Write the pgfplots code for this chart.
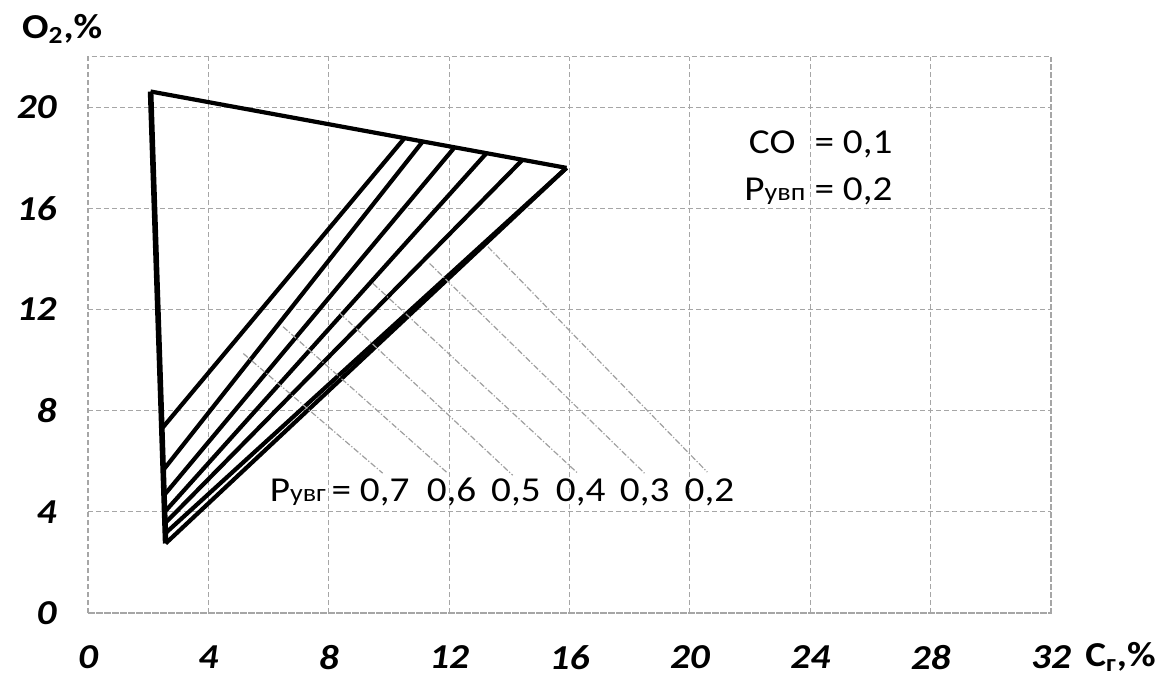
\documentclass[border=0pt]{standalone}
\usepackage{fontspec}
\setmainfont{Carlito}[FakeStretch=1.12]
\usepackage{pgfplots}
\pgfplotsset{compat=1.18}

\begin{document}
\begin{tikzpicture}
\path[use as bounding box] (-44pt,-33pt) rectangle (535.5pt,306.5pt);
\begin{axis}[
  at={(0,0)}, anchor=south west,
  scale only axis, width=481.5pt, height=278.2pt,
  xmin=0, xmax=32, ymin=0, ymax=22,
  xtick={0,4,...,32}, ytick={0,4,...,20},
  grid=major,
  major grid style={gray!70, line width=0.55pt, dash pattern=on 2.5pt off 1.5pt},
  axis line style={gray!70, line width=0.55pt, dash pattern=on 2.5pt off 1.5pt},
  tick style={draw=none},
  /pgf/number format/assume math mode=true,
  ticklabel style={font=\fontsize{17.5}{17.5}\selectfont\bfseries\itshape, inner sep=0pt},
  xticklabel style={yshift=-16pt},
  yticklabel style={xshift=-15.5pt},
  clip=false,
]
% plume boundaries
\addplot[black, line width=2.8pt] coordinates {(2.58,2.75) (2.08,20.62)};
\addplot[black, line width=2.1pt] coordinates {(2.08,20.62) (15.9,17.6)};
\addplot[black, line width=2.1pt] coordinates {(2.58,2.75) (15.9,17.6)};
% lines of constant P_uvg: 0.7 ... 0.2
\addplot[black, line width=2.1pt] coordinates {(2.46,7.30) (10.52,18.78)};
\addplot[black, line width=2.1pt] coordinates {(2.50,5.65) (11.12,18.64)};
\addplot[black, line width=2.1pt] coordinates {(2.53,4.66) (12.18,18.41)};
\addplot[black, line width=2.1pt] coordinates {(2.55,4.00) (13.24,18.18)};
\addplot[black, line width=2.1pt] coordinates {(2.56,3.55) (14.44,17.92)};
\addplot[black, line width=2.1pt] coordinates {(2.57,3.15) (15.90,17.60)};
% leaders to the value labels
\addplot[gray!75, line width=0.6pt, densely dashdotted] coordinates {(5.16,10.26) (9.79,5.53)};
\addplot[gray!75, line width=0.6pt, densely dashdotted] coordinates {(6.48,11.32) (11.95,5.53)};
\addplot[gray!75, line width=0.6pt, densely dashdotted] coordinates {(8.37,11.85) (14.11,5.45)};
\addplot[gray!75, line width=0.6pt, densely dashdotted] coordinates {(9.47,13.03) (16.27,5.53)};
\addplot[gray!75, line width=0.6pt, densely dashdotted] coordinates {(11.35,13.82) (18.49,5.53)};
\addplot[gray!75, line width=0.6pt, densely dashdotted] coordinates {(13.29,14.48) (20.58,5.57)};

\begin{scope}[every node/.style={font=\fontsize{17.5}{17.5}\selectfont, inner sep=0pt}]
\node[anchor=base east] at (axis cs:8.76,4.4) {P{\fontsize{12.5}{12.5}\selectfont увг}\,=};
\node[anchor=base] at (axis cs:9.86,4.4) {0,7};
\node[anchor=base] at (axis cs:12.08,4.4) {0,6};
\node[anchor=base] at (axis cs:14.22,4.4) {0,5};
\node[anchor=base] at (axis cs:16.37,4.4) {0,4};
\node[anchor=base] at (axis cs:18.50,4.4) {0,3};
\node[anchor=base] at (axis cs:20.65,4.4) {0,2};
\node[anchor=base west] at (axis cs:21.95,18.17) {CO};
\node[anchor=base west] at (axis cs:24.13,18.17) {= 0,1};
\node[anchor=base west] at (axis cs:21.80,16.32) {P{\fontsize{12.5}{12.5}\selectfont увп}};
\node[anchor=base west] at (axis cs:24.13,16.32) {= 0,2};
\node[anchor=base west, font=\fontsize{17.5}{17.5}\selectfont\bfseries] at (axis cs:-2.2,22.72) {O\textsubscript{2},\%};
\node[anchor=base west, font=\fontsize{17.5}{17.5}\selectfont\bfseries, xshift=17pt, yshift=-26.5pt] at (axis cs:32,0) {C\textsubscript{г},\%};
\end{scope}
\end{axis}
\end{tikzpicture}
\end{document}
